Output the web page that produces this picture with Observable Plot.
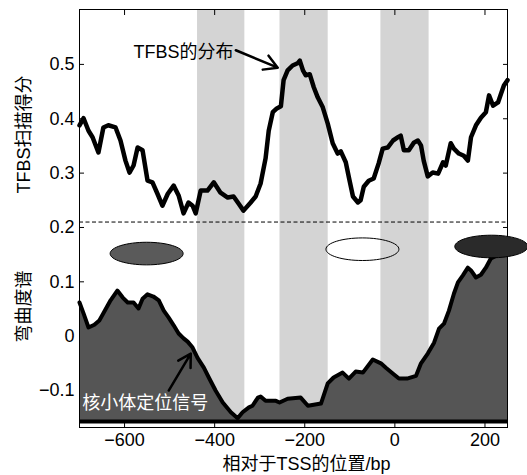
<!DOCTYPE html>
<html><head><meta charset="utf-8">
<script src="https://cdn.jsdelivr.net/npm/d3@7"></script>
<script src="https://cdn.jsdelivr.net/npm/@observablehq/plot@0.6"></script>
<style>body{margin:0;background:#fff;}</style>
</head><body><div id="chart"></div>
<script>
// TFBS scan score (top curve)
const tfbsX = [-700,-691,-680,-671,-658,-647,-636,-620,-609,-598,-589,-580,-571,-560,-549,-538,-527,-516,-504,-491,-480,-469,-458,-449,-442,-431,-416,-402,-387,-371,-358,-347,-336,-320,-309,-298,-287,-280,-271,-262,-253,-247,-238,-227,-216,-211,-204,-198,-189,-180,-171,-160,-149,-138,-127,-120,-109,-102,-93,-82,-76,-69,-58,-47,-36,-27,-16,-4,7,13,20,31,42,51,58,64,73,84,96,107,113,124,131,142,153,162,169,180,191,202,209,218,229,236,242,250];
const tfbsY = [0.388,0.401,0.378,0.366,0.338,0.384,0.388,0.384,0.360,0.323,0.301,0.314,0.347,0.342,0.286,0.283,0.262,0.240,0.262,0.277,0.259,0.226,0.246,0.240,0.226,0.268,0.268,0.283,0.264,0.255,0.257,0.244,0.231,0.246,0.257,0.281,0.327,0.378,0.412,0.419,0.423,0.471,0.489,0.498,0.502,0.507,0.489,0.480,0.482,0.458,0.439,0.421,0.391,0.355,0.336,0.340,0.320,0.292,0.257,0.246,0.250,0.275,0.286,0.290,0.318,0.345,0.347,0.360,0.366,0.369,0.342,0.342,0.356,0.360,0.351,0.323,0.294,0.301,0.299,0.320,0.314,0.355,0.345,0.336,0.332,0.323,0.366,0.388,0.402,0.412,0.443,0.424,0.430,0.447,0.461,0.471];
// Bending spectrum (bottom filled curve)
const bendX = [-700,-691,-680,-667,-656,-647,-631,-616,-604,-593,-580,-569,-560,-549,-536,-524,-513,-502,-491,-480,-469,-460,-449,-438,-424,-413,-398,-382,-364,-349,-338,-324,-316,-304,-298,-287,-264,-256,-238,-209,-193,-180,-164,-149,-136,-116,-102,-87,-71,-49,-31,-20,-4,9,27,47,58,73,87,98,109,120,131,140,151,162,169,180,191,202,213,229,250];
const bendY = [0.062,0.042,0.016,0.021,0.029,0.042,0.066,0.084,0.071,0.062,0.062,0.051,0.069,0.077,0.073,0.066,0.047,0.034,0.020,0.005,-0.004,-0.010,-0.021,-0.040,-0.058,-0.076,-0.100,-0.122,-0.140,-0.151,-0.140,-0.131,-0.128,-0.113,-0.111,-0.119,-0.119,-0.122,-0.115,-0.113,-0.128,-0.126,-0.124,-0.087,-0.076,-0.067,-0.078,-0.065,-0.067,-0.043,-0.050,-0.058,-0.069,-0.078,-0.078,-0.073,-0.050,-0.032,-0.012,0.014,0.023,0.047,0.078,0.099,0.112,0.126,0.121,0.108,0.113,0.126,0.143,0.150,0.158];
const bendBase = -0.157;
const dashedLevel = 0.21;
// shaded regions
const bandStart = [-438, -255, -31];
const bandEnd = [-333, -148, 76];
// nucleosome ellipses
const ellipseX = [-551, -72, 214];
const ellipseY = [0.152, 0.16, 0.165];
const ellipseFill = ["#5a5a5a", "none", "#2a2a2a"];
// ticks
const xTicks = [-600, -400, -200, 0, 200];
const yTicks = [0.5, 0.4, 0.3, 0.2, 0.1, 0, -0.1];
const xDomain = [-700, 250];
const yDomain = [-0.168, 0.601];
// labels & annotations
const yLabelTop = "TFBS扫描得分";
const yLabelBottom = "弯曲度谱";
const xLabel = "相对于TSS的位置/bp";
const noteTop = {text: "TFBS的分布", x: -358, y: 0.522, ax1: -353, ay1: 0.526, ax2: -260, ay2: 0.494};
const noteBottom = {text: "核小体定位信号", x: -694, y: -0.124, ax1: -502, ay1: -0.100, ax2: -453, ay2: -0.032};

const tfbs = tfbsX.map((x, i) => ({x, y: tfbsY[i]}));
const bend = bendX.map((x, i) => ({x, y: bendY[i]}));
const bands = bandStart.map((s, i) => ({x1: s, x2: bandEnd[i]}));
const ellipses = ellipseX.map((x, i) => ({x, y: ellipseY[i], fill: ellipseFill[i]}));

const fmt = d => d < 0 ? "\u2212" + Math.abs(d) : String(d);
const k = 0.5523;
const ellipseSymbol = {draw(ctx) {
  const rx = 36.5, ry = 11.3;
  ctx.moveTo(rx, 0);
  ctx.bezierCurveTo(rx, ry * k, rx * k, ry, 0, ry);
  ctx.bezierCurveTo(-rx * k, ry, -rx, ry * k, -rx, 0);
  ctx.bezierCurveTo(-rx, -ry * k, -rx * k, -ry, 0, -ry);
  ctx.bezierCurveTo(rx * k, -ry, rx, -ry * k, rx, 0);
  ctx.closePath();
}};
const font = "'Liberation Sans', Arial, 'Noto Sans CJK SC', sans-serif";

const ellipseMarks = ellipses.map(e => Plot.dot([e], {x: "x", y: "y", symbol: ellipseSymbol, r: 5, fill: e.fill, stroke: "black", strokeWidth: 1}));

const chart = Plot.plot({
  width: 527, height: 475,
  marginLeft: 79, marginRight: 20, marginTop: 9, marginBottom: 48,
  style: {fontFamily: font, fontSize: "18px", background: "#fff", color: "black", overflow: "visible"},
  x: {domain: xDomain},
  y: {domain: yDomain},
  marks: [
    Plot.rect(bands, {x1: "x1", x2: "x2", y1: bendBase, y2: yDomain[1], fill: "#d4d4d4"}),
    Plot.axisY(yTicks, {anchor: "left", tickSize: 5, dx: 5, fill: "none", label: null}),
    Plot.axisY(yTicks, {anchor: "right", tickSize: 5, dx: -5, fill: "none", label: null}),
    Plot.axisX(xTicks, {anchor: "top", tickSize: 5, dy: 5, fill: "none", label: null}),
    Plot.axisX(xTicks, {anchor: "bottom", tickSize: 5, dy: -5, fill: "none", label: null}),
    Plot.axisY(yTicks, {anchor: "left", tickSize: 0, tickPadding: 5, tickFormat: fmt, label: null}),
    Plot.axisX(xTicks, {anchor: "bottom", tickSize: 0, tickPadding: 6, tickFormat: fmt, label: null}),
    Plot.ruleY([dashedLevel], {stroke: "black", strokeWidth: 1, strokeDasharray: "4,2.5"}),
    Plot.areaY(bend, {x: "x", y1: bendBase, y2: "y", fill: "#555555"}),
    Plot.line(bend, {x: "x", y: "y", stroke: "black", strokeWidth: 4, strokeLinejoin: "round"}),
    Plot.ruleY([bendBase], {stroke: "black", strokeWidth: 4}),
    Plot.line(tfbs, {x: "x", y: "y", stroke: "black", strokeWidth: 4.5, strokeLinejoin: "round"}),
    Plot.frame({stroke: "black", strokeWidth: 1}),
    ...ellipseMarks,
    Plot.text([noteTop], {x: "x", y: "y", text: "text", textAnchor: "end", fontSize: 18, fill: "black"}),
    Plot.arrow([noteTop], {x1: "ax1", y1: "ay1", x2: "ax2", y2: "ay2", stroke: "black", strokeWidth: 2.5, headLength: 10}),
    Plot.text([noteBottom], {x: "x", y: "y", text: "text", textAnchor: "start", fontSize: 18, fill: "white"}),
    Plot.arrow([noteBottom], {x1: "ax1", y1: "ay1", x2: "ax2", y2: "ay2", stroke: "black", strokeWidth: 2.5, headLength: 10}),
    Plot.text([yLabelTop], {frameAnchor: "left", y: () => 0.371, text: d => d, rotate: -90, dx: -55, textAnchor: "middle", lineAnchor: "middle", fontSize: 18, fill: "black"}),
    Plot.text([yLabelBottom], {frameAnchor: "left", y: () => 0.0545, text: d => d, rotate: -90, dx: -55, textAnchor: "middle", lineAnchor: "middle", fontSize: 18, fill: "black"}),
    Plot.text([xLabel], {frameAnchor: "bottom", x: () => -196, text: d => d, dy: 37, textAnchor: "middle", lineAnchor: "middle", fontSize: 18, fill: "black"})
  ]
});
document.getElementById("chart").appendChild(chart);
</script></body></html>
